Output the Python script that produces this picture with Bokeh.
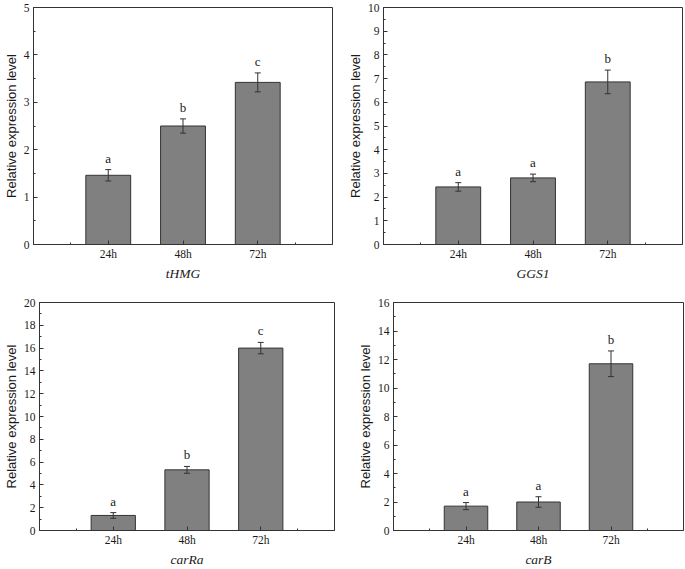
from bokeh.plotting import figure
from bokeh.models import Range1d, FixedTicker, SingleIntervalTicker, Whisker, ColumnDataSource, TeeHead
from bokeh.layouts import column, row
from bokeh.embed import file_html
from bokeh.resources import INLINE
from bokeh.core.properties import value

# ---- data ----
times = ["24h", "48h", "72h"]
genes = ["tHMG", "GGS1", "carRa", "carB"]

thmg_mean = [1.46, 2.50, 3.42]
thmg_err = [0.12, 0.15, 0.20]
thmg_sig = ["a", "b", "c"]

ggs1_mean = [2.43, 2.81, 6.86]
ggs1_err = [0.18, 0.16, 0.50]
ggs1_sig = ["a", "a", "b"]

carra_mean = [1.32, 5.32, 16.0]
carra_err = [0.25, 0.30, 0.50]
carra_sig = ["a", "b", "c"]

carb_mean = [1.71, 2.00, 11.70]
carb_err = [0.25, 0.37, 0.90]
carb_sig = ["a", "a", "b"]

y_max = [5, 10, 20, 16]
y_step = [1, 1, 2, 2]

SERIF = "Liberation Serif"
SANS = "Liberation Sans"
DARK = "#333333"
TXT = "#1a1a1a"


def make(gene, mean, err, sig, ymax, step, width, height, bl, br, bt, bb):
    n = len(times)
    xs = list(range(1, n + 1))
    src = ColumnDataSource(dict(
        x=xs, top=mean,
        upper=[m + e for m, e in zip(mean, err)],
        lower=[m - e for m, e in zip(mean, err)],
        sig=sig,
    ))
    p = figure(width=width, height=height, output_backend="svg", toolbar_location=None,
               x_range=Range1d(0, n + 1), y_range=Range1d(0, ymax),
               min_border_left=bl, min_border_right=br, min_border_top=bt, min_border_bottom=bb)
    p.xgrid.visible = False
    p.ygrid.visible = False
    p.outline_line_color = DARK
    p.outline_line_alpha = 1.0
    p.outline_line_width = 1

    p.vbar(x="x", top="top", width=0.6, bottom=0, source=src,
           fill_color="#808080", line_color=DARK, line_width=1)

    w = Whisker(base="x", upper="upper", lower="lower", source=src,
                line_color=DARK, line_width=1,
                upper_head=TeeHead(size=6, line_color=DARK, line_width=1),
                lower_head=TeeHead(size=6, line_color=DARK, line_width=1))
    w.level = "overlay"
    p.add_layout(w)

    p.text(x="x", y="upper", text="sig", source=src, text_align="center",
           text_baseline="bottom", y_offset=-4, text_color=TXT,
           text_font=value(SERIF), text_font_size="13px")

    xa = p.xaxis[0]
    xa.ticker = FixedTicker(ticks=xs, minor_ticks=[0.5, n + 0.5])
    xa.major_label_overrides = {i: t for i, t in zip(xs, times)}
    xa.axis_label = gene
    xa.axis_label_text_font = SERIF
    xa.axis_label_text_font_style = "italic"
    xa.axis_label_text_font_size = "13.5px"
    xa.axis_label_text_color = TXT
    xa.axis_label_standoff = 3
    xa.major_label_standoff = 3

    ya = p.yaxis[0]
    ya.ticker = SingleIntervalTicker(interval=step, num_minor_ticks=2)
    ya.axis_label = "Relative expression level"
    ya.axis_label_text_font = SANS
    ya.axis_label_text_font_style = "normal"
    ya.axis_label_text_font_size = "13px"
    ya.axis_label_text_color = TXT
    ya.axis_label_standoff = 2
    ya.major_label_standoff = 4

    for ax in (xa, ya):
        ax.axis_line_color = DARK
        ax.major_tick_in = 4
        ax.major_tick_out = 0
        ax.minor_tick_in = 2
        ax.minor_tick_out = 0
        ax.major_tick_line_color = DARK
        ax.minor_tick_line_color = DARK
        ax.major_label_text_font = SERIF
        ax.major_label_text_font_size = "11.5px"
        ax.major_label_text_color = TXT
    return p


p1 = make(genes[0], thmg_mean, thmg_err, thmg_sig, y_max[0], y_step[0], 342, 285, 31, 10, 6, 41)
p2 = make(genes[1], ggs1_mean, ggs1_err, ggs1_sig, y_max[1], y_step[1], 343, 285, 41, 3, 7, 40)
p3 = make(genes[2], carra_mean, carra_err, carra_sig, y_max[2], y_step[2], 342, 284, 31, 8, 17, 36)
p4 = make(genes[3], carb_mean, carb_err, carb_sig, y_max[3], y_step[3], 343, 284, 51, 2, 17, 36)

layout = column(row(p1, p2, spacing=0), row(p3, p4, spacing=0), spacing=0)
open("out.html", "w").write(file_html(layout, INLINE))
